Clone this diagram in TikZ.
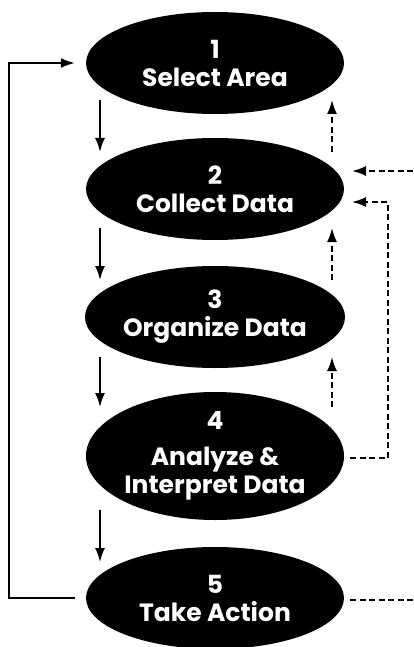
\documentclass[tikz,border=0pt]{standalone}
\usepackage{fontspec}
\setmainfont{Poppins}
\usetikzlibrary{arrows.meta,shapes.geometric,calc}
\begin{document}
\begin{tikzpicture}[x=1pt,y=-1pt,
  stage/.style={ellipse,fill=black,text=white,inner sep=0pt,minimum width=258pt,minimum height=102pt,
    align=center,font=\fontsize{25}{28}\selectfont\bfseries},
  tip/.style={-{Latex[length=14pt,width=10pt]}},
  arr/.style={line width=1.8pt,tip},
  darr/.style={arr,dash pattern=on 6pt off 3.5pt},
  dline/.style={line width=1.8pt,dash pattern=on 6pt off 3.5pt},
  sline/.style={line width=1.8pt}]
\useasboundingbox (0,0) rectangle (413,647);
\node[stage] (e1) at (215,63) {1\\Select Area};
\node[stage] (e2) at (215,189) {2\\Collect Data};
\node[stage] (e3) at (215,317) {3\\Organize Data};
\node[stage,minimum height=128pt] (e4) at (215,456) {4\\[8pt]Analyze \&\\Interpret Data};
\node[stage] (e5) at (215,598) {5\\Take Action};
\coordinate (rin) at (413,171);
\coordinate (rout) at (413,600);
% down arrows
\draw[arr] ([xshift=-115pt,yshift=-37pt]e1.center) -- ([xshift=-115pt,yshift=37pt]e2.center);
\draw[arr] ([xshift=-115pt,yshift=-39pt]e2.center) -- ([xshift=-115pt,yshift=37pt]e3.center);
\draw[arr] ([xshift=-115pt,yshift=-40pt]e3.center) -- ([xshift=-115pt,yshift=49pt]e4.center);
\draw[arr] ([xshift=-115pt,yshift=-54pt]e4.center) -- ([xshift=-115pt,yshift=36pt]e5.center);
% dashed up arrows
\draw[darr] ([xshift=117pt,yshift=37pt]e2.center) -- ([xshift=117pt,yshift=-37pt]e1.center);
\draw[darr] ([xshift=117pt,yshift=37pt]e3.center) -- ([xshift=117pt,yshift=-39pt]e2.center);
\draw[darr] ([xshift=117pt,yshift=49pt]e4.center) -- ([xshift=117pt,yshift=-40pt]e3.center);
% loop back
\draw[sline,tip] ([xshift=-11pt]e5.west) -- ++(-66,0) |- ([xshift=-11pt]e1.west);
% right dashed
\draw[darr] (rin) -- ([xshift=137pt,yshift=18pt]e2.center);
\draw[darr] ([xshift=6pt,yshift=-2pt]e4.east) -- (388,458) |- ([xshift=137pt,yshift=-13pt]e2.center);
\draw[dline] ([xshift=6pt,yshift=-2pt]e5.east) -- (rout);
\end{tikzpicture}
\end{document}
